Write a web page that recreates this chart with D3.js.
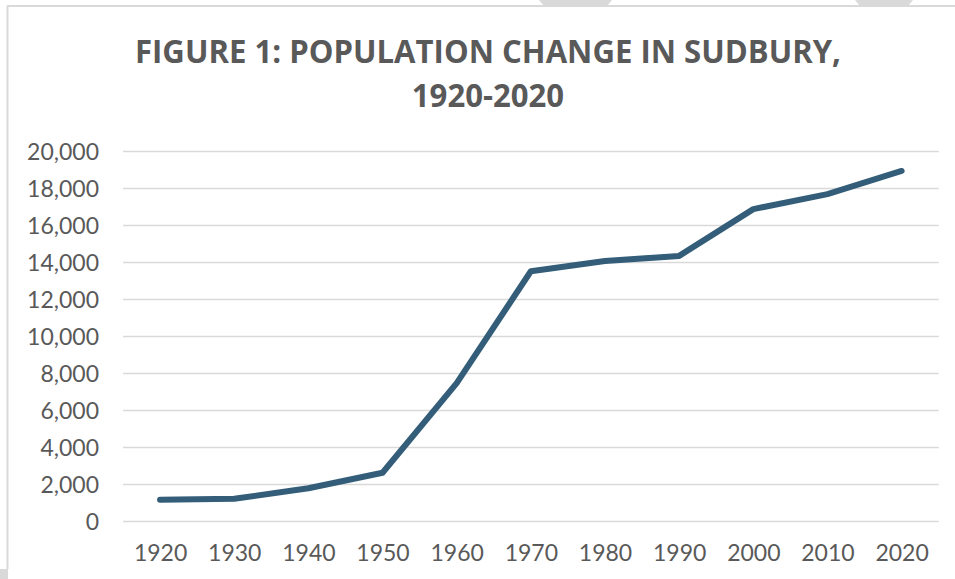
<!DOCTYPE html>
<html>
<head>
<meta charset="utf-8">
<script src="https://cdn.jsdelivr.net/npm/d3@7"></script>
<style>
  html, body { margin: 0; padding: 0; background: #ffffff; }
  svg { display: block; }
</style>
</head>
<body>
<svg id="chart" width="955" height="579"></svg>
<script>
const years = ["1920","1930","1940","1950","1960","1970","1980","1990","2000","2010","2020"];
const population = [1150, 1200, 1770, 2610, 7450, 13500, 14050, 14330, 16860, 17670, 18920];
const yTicks = [0, 2000, 4000, 6000, 8000, 10000, 12000, 14000, 16000, 18000, 20000];
const titleLines = ["FIGURE 1: POPULATION CHANGE IN SUDBURY,", "1920-2020"];

const svg = d3.select("#chart");
const W = 955, H = 579;
const plot = { left: 123, right: 938.7, top: 151, bottom: 521 };
const textColor = "#595959";
const gridColor = "#d9d9d9";
const lineColor = "#335d78";

// page frame decorations
svg.append("rect").attr("x", 0).attr("y", 0).attr("width", W).attr("height", H).attr("fill", "#fff");
svg.append("polygon").attr("points", "539,0 612,0 607,6 544,6").attr("fill", gridColor);
svg.append("polygon").attr("points", "855,0 913,0 908,6 860,6").attr("fill", gridColor);
svg.append("line").attr("x1", 7).attr("x2", W).attr("y1", 6).attr("y2", 6)
  .attr("stroke", gridColor).attr("stroke-width", 2);
svg.append("line").attr("x1", 7.5).attr("x2", 7.5).attr("y1", 6).attr("y2", 569)
  .attr("stroke", gridColor).attr("stroke-width", 2);
svg.append("rect").attr("x", 0).attr("y", 569).attr("width", 8).attr("height", 10).attr("fill", gridColor);

const x = d3.scalePoint().domain(years).range([plot.left, plot.right]).padding(0.5);
const y = d3.scaleLinear().domain([0, 20000]).range([plot.bottom, plot.top]);

// gridlines
const grid = svg.append("g").attr("transform", `translate(${plot.left},0)`)
  .call(d3.axisLeft(y).tickValues(yTicks).tickSize(-(plot.right - plot.left)).tickFormat(""));
grid.select(".domain").remove();
grid.selectAll(".tick line").attr("stroke", gridColor).attr("stroke-width", 1.6);

// y axis labels
const yAxis = svg.append("g").attr("transform", `translate(${plot.left},0)`)
  .call(d3.axisLeft(y).tickValues(yTicks).tickSize(0).tickPadding(24).tickFormat(d3.format(",")));
yAxis.select(".domain").remove();
yAxis.selectAll("text").attr("font-family", "Lato, sans-serif").attr("font-size", 23)
  .attr("fill", textColor).attr("dy", "0.36em");

// x axis labels
const xAxis = svg.append("g").attr("transform", `translate(0,${plot.bottom})`)
  .call(d3.axisBottom(x).tickSize(0).tickPadding(24));
xAxis.select(".domain").remove();
xAxis.selectAll("text").attr("font-family", "Lato, sans-serif").attr("font-size", 23)
  .attr("fill", textColor).attr("dy", "0.71em");

// line
const line = d3.line().x((d, i) => x(years[i])).y(d => y(d));
svg.append("path").datum(population)
  .attr("d", line)
  .attr("fill", "none")
  .attr("stroke", lineColor)
  .attr("stroke-width", 6)
  .attr("stroke-linejoin", "round")
  .attr("stroke-linecap", "round");

// title
const titleX = 488;
const titleY = [62.7, 107];
const t = svg.append("g");
const texts = titleLines.map((s, i) => t.append("text")
  .attr("x", titleX).attr("y", titleY[i])
  .attr("text-anchor", "middle")
  .attr("font-family", "'Open Sans', sans-serif")
  .attr("font-weight", "bold")
  .attr("font-size", 33)
  .attr("fill", textColor)
  .text(s));
const natural0 = texts[0].node().getComputedTextLength();
const factor = 706 / natural0;
texts.forEach(tx => {
  const n = tx.node().getComputedTextLength();
  tx.attr("textLength", n * factor).attr("lengthAdjust", "spacingAndGlyphs");
});
</script>
</body>
</html>
